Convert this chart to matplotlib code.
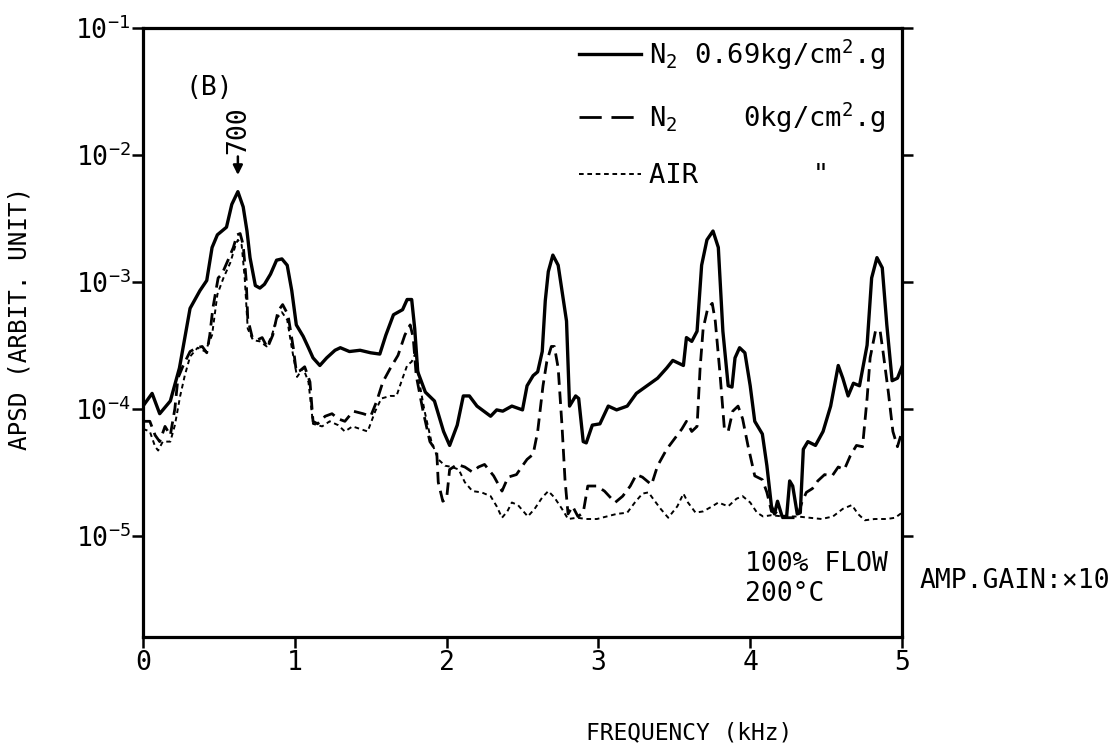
import numpy as np
import matplotlib
matplotlib.use("Agg")
import matplotlib.pyplot as plt
from matplotlib.lines import Line2D
from matplotlib.ticker import NullLocator

plt.rcParams['font.family'] = ['DejaVu Sans Mono']
plt.rcParams['mathtext.fontset'] = 'custom'
plt.rcParams['mathtext.rm'] = 'DejaVu Sans Mono'
plt.rcParams['mathtext.it'] = 'DejaVu Sans Mono'
plt.rcParams['mathtext.bf'] = 'DejaVu Sans Mono'
plt.rcParams['mathtext.default'] = 'regular'

# ---- spectra: frequency (kHz) and log10 of APSD (arbitrary units) ----
freq_n2_069 = [
    0.00, 0.06, 0.11, 0.18, 0.24, 0.31, 0.375, 0.42, 0.455, 0.49,
    0.55, 0.585, 0.625, 0.66, 0.685, 0.705, 0.74, 0.77, 0.80, 0.84,
    0.88, 0.915, 0.95, 0.98, 1.01, 1.055, 1.09, 1.12, 1.165, 1.21,
    1.265, 1.30, 1.36, 1.43, 1.50, 1.56, 1.60, 1.65, 1.71, 1.74,
    1.77, 1.79, 1.81, 1.86, 1.92, 1.98, 2.02, 2.07, 2.11, 2.15,
    2.20, 2.29, 2.33, 2.37, 2.43, 2.50, 2.53, 2.57, 2.60, 2.63,
    2.65, 2.67, 2.70, 2.735, 2.77, 2.79, 2.81, 2.85, 2.87, 2.90,
    2.92, 2.96, 3.01, 3.065, 3.12, 3.19, 3.25, 3.32, 3.39, 3.45,
    3.49, 3.56, 3.58, 3.615, 3.65, 3.68, 3.715, 3.755, 3.79, 3.82,
    3.855, 3.88, 3.90, 3.93, 3.965, 4.00, 4.03, 4.08, 4.11, 4.14,
    4.16, 4.18, 4.21, 4.24, 4.26, 4.28, 4.31, 4.33, 4.35, 4.38,
    4.43, 4.48, 4.53, 4.58, 4.61, 4.645, 4.68, 4.72, 4.77, 4.80,
    4.835, 4.87, 4.90, 4.935, 4.97, 5.00,
]
logpsd_n2_069 = [
    -3.98, -3.88, -4.04, -3.94, -3.68, -3.21, -3.07, -2.99, -2.73, -2.63,
    -2.57, -2.39, -2.29, -2.41, -2.60, -2.81, -3.03, -3.05, -3.02, -2.94,
    -2.83, -2.82, -2.87, -3.07, -3.34, -3.43, -3.52, -3.60, -3.66, -3.60,
    -3.54, -3.52, -3.55, -3.54, -3.56, -3.57, -3.42, -3.26, -3.22, -3.14,
    -3.14, -3.37, -3.71, -3.87, -3.94, -4.18, -4.29, -4.13, -3.90, -3.90,
    -3.98, -4.06, -4.01, -4.02, -3.98, -4.01, -3.82, -3.74, -3.71, -3.55,
    -3.15, -2.92, -2.79, -2.87, -3.15, -3.31, -3.98, -3.90, -3.92, -4.26,
    -4.27, -4.13, -4.12, -3.98, -4.01, -3.98, -3.88, -3.82, -3.76, -3.68,
    -3.62, -3.66, -3.44, -3.47, -3.39, -2.87, -2.67, -2.60, -2.73, -3.39,
    -3.82, -3.83, -3.60, -3.52, -3.56, -3.82, -4.10, -4.20, -4.45, -4.77,
    -4.83, -4.73, -4.85, -4.85, -4.57, -4.61, -4.83, -4.82, -4.32, -4.26,
    -4.29, -4.18, -3.98, -3.66, -3.76, -3.90, -3.80, -3.82, -3.50, -2.97,
    -2.81, -2.89, -3.34, -3.78, -3.76, -3.67,
]

freq_n2_0 = [
    0.00, 0.045, 0.08, 0.11, 0.145, 0.18, 0.21, 0.23, 0.265, 0.31,
    0.355, 0.39, 0.42, 0.44, 0.46, 0.495, 0.52, 0.56, 0.595, 0.62,
    0.64, 0.66, 0.68, 0.69, 0.72, 0.75, 0.785, 0.82, 0.855, 0.89,
    0.92, 0.955, 0.99, 1.01, 1.035, 1.065, 1.10, 1.12, 1.15, 1.20,
    1.245, 1.285, 1.33, 1.385, 1.45, 1.50, 1.54, 1.58, 1.63, 1.68,
    1.725, 1.76, 1.78, 1.80, 1.845, 1.89, 1.935, 1.945, 1.975, 2.00,
    2.02, 2.07, 2.12, 2.17, 2.21, 2.25, 2.31, 2.365, 2.405, 2.46,
    2.50, 2.53, 2.57, 2.60, 2.635, 2.66, 2.69, 2.71, 2.735, 2.76,
    2.78, 2.80, 2.83, 2.865, 2.90, 2.93, 2.99, 3.04, 3.11, 3.16,
    3.21, 3.25, 3.29, 3.35, 3.39, 3.45, 3.50, 3.55, 3.58, 3.615,
    3.65, 3.67, 3.69, 3.72, 3.75, 3.77, 3.80, 3.83, 3.855, 3.885,
    3.92, 3.95, 3.985, 4.03, 4.08, 4.11, 4.14, 4.17, 4.21, 4.27,
    4.31, 4.34, 4.37, 4.41, 4.445, 4.49, 4.54, 4.58, 4.62, 4.66,
    4.70, 4.74, 4.77, 4.79, 4.825, 4.855, 4.875, 4.91, 4.94, 4.97,
    5.00,
]
logpsd_n2_0 = [
    -4.10, -4.10, -4.21, -4.26, -4.14, -4.21, -4.00, -3.76, -3.66, -3.55,
    -3.52, -3.51, -3.56, -3.42, -3.21, -2.97, -2.94, -2.83, -2.73, -2.63,
    -2.62, -2.71, -2.99, -3.29, -3.44, -3.46, -3.44, -3.52, -3.42, -3.23,
    -3.18, -3.26, -3.52, -3.71, -3.70, -3.67, -3.79, -4.10, -4.12, -4.06,
    -4.04, -4.08, -4.10, -4.02, -4.04, -4.06, -3.94, -3.79, -3.68, -3.58,
    -3.42, -3.34, -3.44, -3.74, -4.02, -4.26, -4.34, -4.58, -4.73, -4.71,
    -4.48, -4.44, -4.46, -4.50, -4.46, -4.44, -4.53, -4.65, -4.54, -4.52,
    -4.45, -4.40, -4.36, -4.18, -3.82, -3.63, -3.51, -3.51, -3.68, -4.13,
    -4.56, -4.83, -4.77, -4.85, -4.82, -4.61, -4.61, -4.65, -4.74, -4.69,
    -4.61, -4.52, -4.54, -4.60, -4.45, -4.32, -4.24, -4.16, -4.10, -4.18,
    -4.14, -3.68, -3.37, -3.21, -3.17, -3.31, -3.71, -4.16, -4.18, -4.02,
    -3.98, -4.08, -4.29, -4.53, -4.56, -4.66, -4.81, -4.82, -4.86, -4.86,
    -4.86, -4.74, -4.66, -4.63, -4.57, -4.52, -4.53, -4.46, -4.48, -4.37,
    -4.29, -4.30, -3.92, -3.60, -3.39, -3.38, -3.55, -3.87, -4.18, -4.30,
    -4.18,
]

freq_air = [
    0.00, 0.045, 0.08, 0.10, 0.13, 0.18, 0.21, 0.245, 0.275, 0.31,
    0.36, 0.41, 0.455, 0.49, 0.53, 0.575, 0.61, 0.625, 0.65, 0.67,
    0.69, 0.725, 0.77, 0.815, 0.85, 0.88, 0.915, 0.95, 0.98, 1.015,
    1.055, 1.09, 1.12, 1.18, 1.23, 1.285, 1.33, 1.38, 1.43, 1.48,
    1.53, 1.57, 1.63, 1.67, 1.71, 1.74, 1.77, 1.80, 1.82, 1.855,
    1.90, 1.945, 1.99, 2.035, 2.08, 2.12, 2.17, 2.23, 2.29, 2.33,
    2.365, 2.40, 2.43, 2.47, 2.535, 2.58, 2.63, 2.67, 2.71, 2.76,
    2.80, 2.86, 2.92, 2.99, 3.055, 3.12, 3.19, 3.24, 3.29, 3.33,
    3.36, 3.41, 3.46, 3.52, 3.56, 3.59, 3.64, 3.69, 3.75, 3.79,
    3.855, 3.91, 3.95, 4.00, 4.045, 4.085, 4.14, 4.215, 4.31, 4.39,
    4.47, 4.545, 4.61, 4.67, 4.71, 4.755, 4.82, 4.90, 4.955, 5.00,
]
logpsd_air = [
    -4.16, -4.18, -4.30, -4.33, -4.26, -4.26, -4.13, -3.90, -3.74, -3.59,
    -3.52, -3.55, -3.42, -3.10, -2.97, -2.85, -2.71, -2.67, -2.71, -2.97,
    -3.37, -3.46, -3.47, -3.51, -3.42, -3.29, -3.24, -3.30, -3.52, -3.75,
    -3.68, -3.79, -4.12, -4.14, -4.10, -4.13, -4.18, -4.14, -4.16, -4.18,
    -4.02, -3.92, -3.90, -3.90, -3.76, -3.66, -3.63, -3.55, -3.79, -4.02,
    -4.26, -4.40, -4.45, -4.46, -4.48, -4.58, -4.65, -4.66, -4.69, -4.77,
    -4.86, -4.81, -4.74, -4.76, -4.85, -4.79, -4.70, -4.65, -4.70, -4.79,
    -4.87, -4.86, -4.87, -4.87, -4.85, -4.83, -4.82, -4.74, -4.67, -4.66,
    -4.71, -4.79, -4.86, -4.77, -4.67, -4.74, -4.82, -4.81, -4.77, -4.74,
    -4.77, -4.71, -4.69, -4.74, -4.82, -4.85, -4.84, -4.85, -4.85, -4.86,
    -4.87, -4.85, -4.79, -4.76, -4.83, -4.88, -4.87, -4.87, -4.86, -4.82,
]

series_labels = [
    'N$_2$ 0.69kg/cm$^2$.g',
    'N$_2$    0kg/cm$^2$.g',
    'AIR       "',
]
x_ticks = [0, 1, 2, 3, 4, 5]
x_tick_labels = ['0', '1', '2', '3', '4', '5']
y_ticks = [1e-1, 1e-2, 1e-3, 1e-4, 1e-5]
y_tick_labels = ['$10^{-1}$', '$10^{-2}$', '$10^{-3}$', '$10^{-4}$', '$10^{-5}$']
peak_label = '700'

FS = 19
W, H = 1117, 747
fig = plt.figure(figsize=(W / 100, H / 100), dpi=100)
fig.patch.set_facecolor('white')
L, R, T, B = 143, 902, 28, 637
ax = fig.add_axes([L / W, 1 - B / H, (R - L) / W, (B - T) / H])

solid_style = dict(color='black', lw=2.4, solid_joinstyle='round', zorder=4)
dash_style = dict(color='black', lw=2.0, linestyle=(0, (4.5, 2.4)), zorder=3)
dot_style = dict(color='black', lw=1.4, linestyle=(0, (2.4, 1.9)), zorder=2)

ax.plot(freq_n2_069, 10 ** np.asarray(logpsd_n2_069), **solid_style)
ax.plot(freq_n2_0, 10 ** np.asarray(logpsd_n2_0), **dash_style)
ax.plot(freq_air, 10 ** np.asarray(logpsd_air), **dot_style)

ax.set_yscale('log')
ax.set_xlim(0, 5)
ax.set_ylim(10 ** -5.8, 1e-1)
ax.set_xticks(x_ticks)
ax.set_xticklabels(x_tick_labels)
ax.set_yticks(y_ticks)
ax.set_yticklabels(y_tick_labels)
ax.yaxis.set_minor_locator(NullLocator())
ax.tick_params(axis='y', which='major', direction='out', length=8, width=1.8,
               left=True, right=True, labelleft=True, labelright=False,
               pad=1, labelsize=FS)
ax.tick_params(axis='x', which='major', direction='out', length=8, width=1.8,
               pad=1, labelsize=FS)
for sp in ax.spines.values():
    sp.set_linewidth(2.3)

# legend drawn as a block of sample lines and labels
handles = [
    Line2D([], [], color='black', lw=2.4),
    Line2D([], [], color='black', lw=2.0, linestyle=(0, (8, 3.5))),
    Line2D([], [], color='black', lw=1.4, linestyle=(0, (2.4, 1.9))),
]
ax.legend(handles, series_labels, loc='upper left', bbox_to_anchor=(0.574, 0.985),
          frameon=False, fontsize=19.5, handlelength=2.3, handletextpad=0.3,
          labelspacing=1.05, borderpad=0, borderaxespad=0)

ax.text(0.087, 0.901, '(B)', transform=ax.transAxes, ha='center', va='center',
        fontsize=FS)
ax.text(0.793, 0.142, '100% FLOW\n200°C', transform=ax.transAxes, ha='left',
        va='top', fontsize=FS, linespacing=1.2)

# mark the dominant low-frequency peak
ipk = int(np.argmax(logpsd_n2_069))
ax.annotate(peak_label, xy=(freq_n2_069[ipk], 10 ** logpsd_n2_069[ipk]),
            xytext=(0, 38), textcoords='offset pixels', rotation=90,
            ha='center', va='bottom', fontsize=FS,
            arrowprops=dict(arrowstyle='-|>', color='black', lw=1.8,
                            shrinkA=0, shrinkB=12, mutation_scale=14))

fig.text(920 / W, 1 - 581 / H, 'AMP.GAIN:×10', ha='left', va='center', fontsize=FS)
fig.text(20 / W, 1 - 318 / H, 'APSD (ARBIT. UNIT)', rotation=90, ha='center',
         va='center', fontsize=17.5)
fig.text(689 / W, 1 - 733 / H, 'FREQUENCY (kHz)', ha='center', va='center',
         fontsize=16.5)

fig.savefig('out.png', dpi=100)
